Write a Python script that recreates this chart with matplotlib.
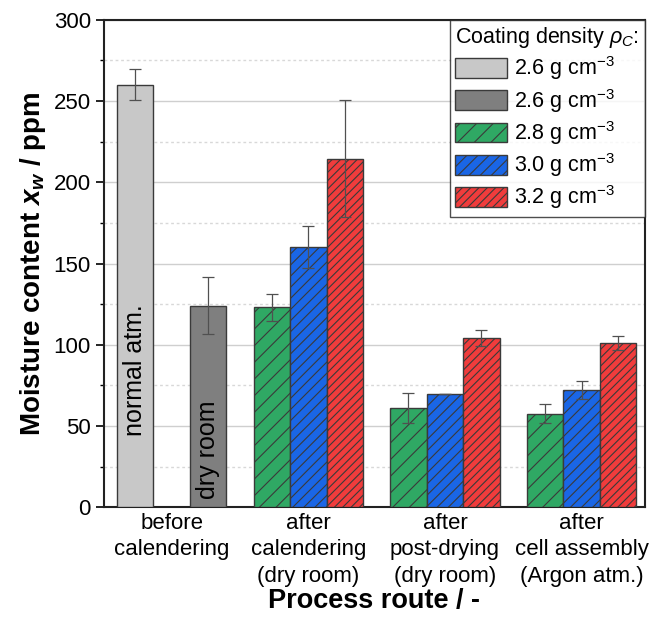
import matplotlib.pyplot as plt
from matplotlib.ticker import MultipleLocator
import numpy as np

plt.rcParams['font.family'] = ['Liberation Sans', 'DejaVu Sans']
plt.rcParams['mathtext.fontset'] = 'custom'
plt.rcParams['mathtext.rm'] = 'Liberation Sans'
plt.rcParams['mathtext.it'] = 'Liberation Sans:italic'
plt.rcParams['mathtext.bf'] = 'Liberation Sans:bold'
plt.rcParams['mathtext.bfit'] = 'Liberation Sans:bold:italic'
plt.rcParams['hatch.linewidth'] = 0.8

# data
groups = ["before\ncalendering", "after\ncalendering\n(dry room)",
          "after\npost-drying\n(dry room)", "after\ncell assembly\n(Argon atm.)"]
gray_vals = [260, 124]
gray_err = [9.5, 17.5]
green_vals = [123, 61, 57.5]
green_err = [8.5, 9, 5.8]
blue_vals = [160, 69.5, 72]
blue_err = [13, 0, 5.4]
red_vals = [214.5, 104, 101]
red_err = [36, 5, 4.3]
labels = ["2.6 g cm$^{-3}$", "2.6 g cm$^{-3}$", "2.8 g cm$^{-3}$",
          "3.0 g cm$^{-3}$", "3.2 g cm$^{-3}$"]

fig = plt.figure(figsize=(6.5, 6.2), dpi=100)
ax = fig.add_axes([0.16, 0.182, 0.832, 0.786])

w = 0.267
ecol = "#3a3a3a"
errkw = dict(ecolor="#505050", elinewidth=0.9, capsize=4, capthick=0.9)

x1 = np.arange(1, 4)
ax.bar(-w, gray_vals[0], w, yerr=gray_err[0], color="#c8c8c8", edgecolor=ecol,
       linewidth=1, label=labels[0], error_kw=errkw, zorder=3)
ax.bar(w, gray_vals[1], w, yerr=gray_err[1], color="#7f7f7f", edgecolor=ecol,
       linewidth=1, label=labels[1], error_kw=errkw, zorder=3)
ax.bar(x1 - w, green_vals, w, yerr=green_err, color="#2fa864", edgecolor=ecol,
       hatch="//", linewidth=1, label=labels[2], error_kw=errkw, zorder=3)
ax.bar(x1, blue_vals, w, yerr=blue_err, color="#1a66e6", edgecolor=ecol,
       hatch="///", linewidth=1, label=labels[3], error_kw=errkw, zorder=3)
ax.bar(x1 + w, red_vals, w, yerr=red_err, color="#f03c3c", edgecolor=ecol,
       hatch="////", linewidth=1, label=labels[4], error_kw=errkw, zorder=3)

ax.text(-w, 44, "normal atm.", rotation=90, ha="center", va="bottom",
        fontsize=18, zorder=4)
ax.text(w, 5, "dry room", rotation=90, ha="center", va="bottom",
        fontsize=18, zorder=4)

ax.set_xlim(-0.495, 3.462)
ax.set_ylim(0, 300)
ax.yaxis.set_major_locator(MultipleLocator(50))
ax.yaxis.set_minor_locator(MultipleLocator(25))
ax.set_xticks(range(4))
ax.set_xticklabels(groups, fontsize=16, linespacing=1.35)
ax.tick_params(axis="x", length=0, pad=4)
ax.tick_params(axis="y", which="major", labelsize=16, length=6, width=1.2)
ax.tick_params(axis="y", which="minor", length=3, width=1)

ax.grid(axis="y", which="major", color="#cfcfcf", linewidth=1, zorder=0)
ax.grid(axis="y", which="minor", color="#d8d8d8", linewidth=1,
        linestyle=(0, (2, 2)), zorder=0)
ax.set_axisbelow(True)
for s in ax.spines.values():
    s.set_linewidth(1.5)
    s.set_color("#222222")

ax.set_ylabel(r"Moisture content $\mathbfit{x_w}$ / ppm", fontsize=20,
              fontweight="bold", labelpad=4)
ax.set_xlabel("Process route / -", fontsize=19.5, fontweight="bold", labelpad=1)

leg = ax.legend(title=r"Coating density $\rho_C$:", loc="upper right",
                fontsize=15.5, title_fontsize=15.5, frameon=True, fancybox=False,
                borderaxespad=0, handlelength=2.4, handleheight=1.05,
                labelspacing=0.2, borderpad=0.25, handletextpad=0.3)
leg.get_frame().set_edgecolor("#222222")
leg.get_frame().set_linewidth(1)
leg._legend_box.align = "left"

fig.savefig("out.png", dpi=100)
